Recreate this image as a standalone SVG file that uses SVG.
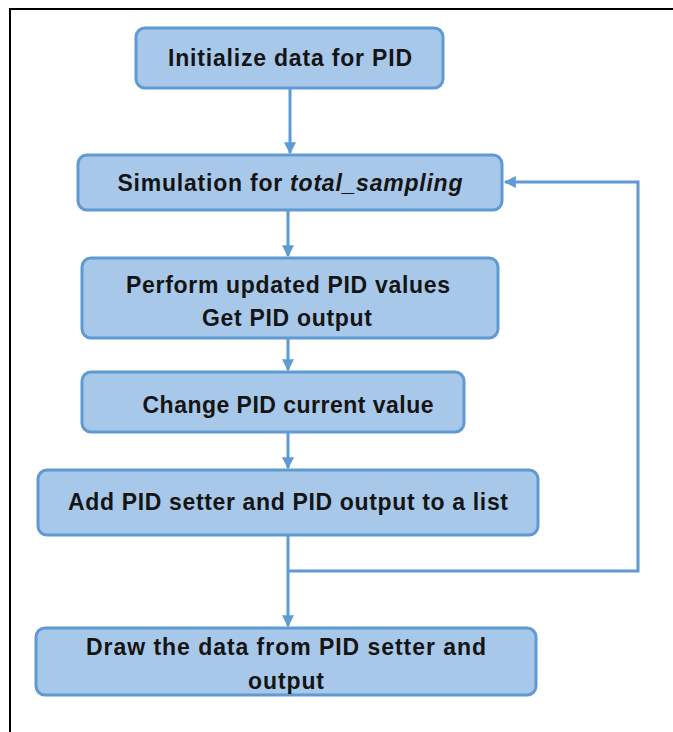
<svg xmlns="http://www.w3.org/2000/svg" width="673" height="732" viewBox="0 0 673 732">
<style>
.box{fill:#a8c8ea;stroke:#5f9ad3;stroke-width:3}
.t{font-family:"Liberation Sans",Arial,sans-serif;font-weight:bold;font-size:23px;fill:#141414;text-anchor:middle}
.c{fill:none;stroke:#5f9ad3;stroke-width:3}
</style>
<defs>
<marker id="a" viewBox="0 0 10 10" refX="9" refY="5" markerWidth="14" markerHeight="12" orient="auto" markerUnits="userSpaceOnUse">
<path d="M0,0 L10,5 L0,10 z" fill="#5f9ad3"/>
</marker>
</defs>
<rect x="0" y="0" width="673" height="732" fill="#fff"/>
<path d="M10,740 V9 H680" fill="none" stroke="#000" stroke-width="2"/>
<g id="connectors">
<path class="c" d="M290,88 V153" marker-end="url(#a)"/>
<path class="c" d="M288,210 V256" marker-end="url(#a)"/>
<path class="c" d="M288,338 V370" marker-end="url(#a)"/>
<path class="c" d="M288,432 V468" marker-end="url(#a)"/>
<path class="c" d="M288,535 V626" marker-end="url(#a)"/>
<path class="c" d="M288,571 H638 V182 H505" marker-end="url(#a)"/>
</g>
<g id="n1"><rect class="box" x="136" y="28" width="307" height="60" rx="9"/><text class="t" x="290" y="66" textLength="244">Initialize data for PID</text></g>
<g id="n2"><rect class="box" x="78" y="155" width="424" height="55" rx="9"/><text class="t" x="290" y="191" textLength="345">Simulation for <tspan font-style="italic">total_sampling</tspan></text></g>
<g id="n3"><rect class="box" x="82" y="258" width="416" height="80" rx="9"/><text class="t" x="288" y="293" textLength="324">Perform updated PID values</text><text class="t" x="287" y="326" textLength="170">Get PID output</text></g>
<g id="n4"><rect class="box" x="82" y="372" width="382" height="60" rx="9"/><text class="t" x="288" y="413" textLength="291">Change PID current value</text></g>
<g id="n5"><rect class="box" x="38" y="470" width="500" height="65" rx="9"/><text class="t" x="288" y="510" textLength="440">Add PID setter and PID output to a list</text></g>
<g id="n6"><rect class="box" x="36" y="628" width="500" height="67" rx="9"/><text class="t" x="286" y="655" textLength="400">Draw the data from PID setter and</text><text class="t" x="286" y="689" textLength="76">output</text></g>
</svg>
